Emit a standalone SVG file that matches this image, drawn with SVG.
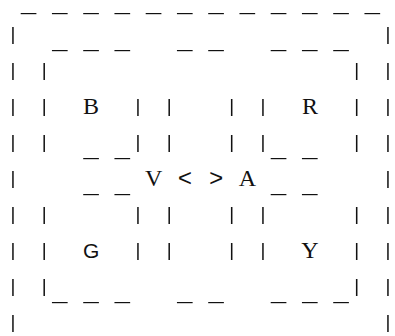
<svg xmlns="http://www.w3.org/2000/svg" width="395" height="336" viewBox="0 0 395 336">
<style>
text{fill:#111;text-anchor:middle}
.bar{font-family:"Liberation Mono",monospace;font-size:19px}
.us{font-family:"Liberation Mono",monospace;font-size:26px}
.lbl{font-family:"Liberation Serif",serif;font-size:24px}
.sans{font-family:"Liberation Sans",sans-serif;font-size:21px}
.op{font-family:"Liberation Mono",monospace;font-size:24px}
</style>
<defs>
<filter id="gray" x="0" y="0" width="395" height="336" filterUnits="userSpaceOnUse"><feOffset dx="0" dy="0"/></filter>
</defs>
<rect width="395" height="336" fill="#fff"/>
<g id="frame" filter="url(#gray)">
<text class="us" x="28.6 59.9 91.1 122.4 153.6 184.9 216.1 247.4 278.6 309.9 341.1 372.4" y="11.3">____________</text>
<text class="bar" x="13 388" y="40.3">||</text>
<text class="us" x="59.9 91.1 122.4 184.9 216.1 278.6 309.9 341.1" y="48.3">________</text>
<text class="bar" x="13 44.25 356.75 388" y="76.3">||||</text>
<text class="bar" x="13 44.25 138 169.25 231.75 263 356.75 388" y="112.3">||||||||</text>
<text class="bar" x="13 44.25 138 169.25 231.75 263 356.75 388" y="148.3">||||||||</text>
<text class="us" x="91.1 122.4 278.6 309.9" y="156.3">____</text>
<text class="bar" x="13 388" y="184.3">||</text>
<text class="us" x="91.1 122.4 278.6 309.9" y="192.3">____</text>
<text class="bar" x="13 44.25 138 169.25 231.75 263 356.75 388" y="220.3">||||||||</text>
<text class="bar" x="13 44.25 138 169.25 231.75 263 356.75 388" y="256.3">||||||||</text>
<text class="bar" x="13 44.25 356.75 388" y="292.3">||||</text>
<text class="us" x="59.9 91.1 122.4 184.9 216.1 278.6 309.9 341.1" y="300.3">________</text>
<text class="bar" x="13 388" y="328.3">||</text>
</g>
<g id="node-B"><text class="lbl" x="91.1" y="114.3">B</text></g>
<g id="node-R"><text class="lbl" x="309.9" y="114.3">R</text></g>
<g id="node-V"><text class="lbl" x="153.6" y="186.3">V</text></g>
<g id="node-A"><text class="lbl" x="247.4" y="186.3">A</text></g>
<g id="node-G"><text class="sans" x="91.1" y="258.3">G</text></g>
<g id="node-Y"><text class="lbl" x="309.9" y="258.3">Y</text></g>
<g id="connectors">
<text class="op" x="184.9" y="186.3">&lt;</text>
<text class="op" x="216.1" y="186.3">&gt;</text>
</g>
</svg>
